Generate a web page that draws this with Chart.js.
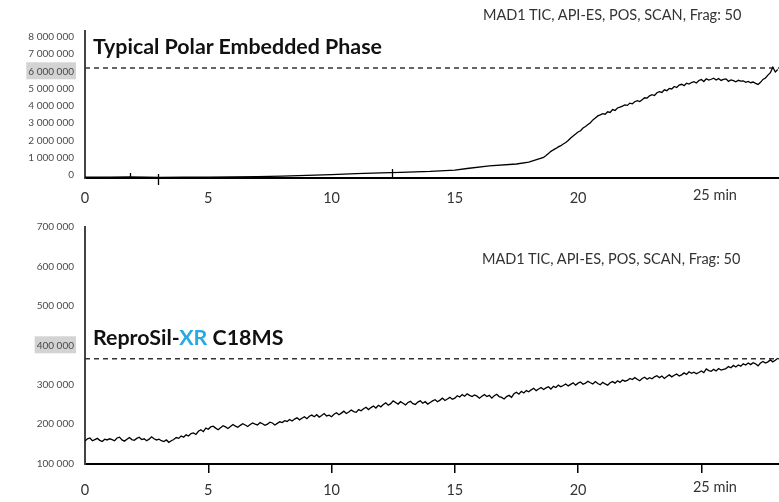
<!DOCTYPE html>
<html>
<head>
<meta charset="utf-8">
<script src="https://cdn.jsdelivr.net/npm/chart.js@4.4.1/dist/chart.umd.min.js"></script>
<style>
  body { margin: 0; background: #fff; font-family: Lato, sans-serif; }
  #wrap { position: relative; width: 779px; height: 502px; overflow: hidden; }
  canvas { position: absolute; left: 0; }
  .title { position: absolute; left: 93px; font-weight: bold; font-size: 21.4px; line-height: 1; color: #111; white-space: nowrap; }
  .note { position: absolute; font-size: 14.5px; line-height: 1; color: #333; white-space: nowrap; }
  .xr { color: #27a9e1; }
</style>
</head>
<body>
<div id="wrap">
  <canvas id="topChart" width="779" height="210" style="top:0"></canvas>
  <canvas id="bottomChart" width="779" height="292" style="top:210px"></canvas>
  <div class="note" style="left:483px; top:8px">MAD1 TIC, API-ES, POS, SCAN, Frag: 50</div>
  <div class="title" style="top:36px">Typical Polar Embedded Phase</div>
  <div class="note" style="left:482px; top:252px">MAD1 TIC, API-ES, POS, SCAN, Frag: 50</div>
  <div class="title" style="top:327px">ReproSil-<span class="xr">XR</span> C18MS</div>
</div>
<script>
// time axis (min)
const xMax = 28.15;
const xTickValues = [0, 5, 10, 15, 20, 25];
const xTickLabels = ['0', '5', '10', '15', '20', '25'];
const xUnit = 'min';

// top chromatogram, counts in thousands
const topYTicks = [0, 1000000, 2000000, 3000000, 4000000, 5000000, 6000000, 7000000, 8000000];
const topHighlight = 6000000;
const topRef = 6190000;
const topEarlyTimes = [0, 1.0, 1.8, 2.5, 3.0, 4.0, 5.0, 6.0, 7.0, 8.0, 9.0, 10.0, 11.0, 12.0, 12.8, 14.0, 15.0, 15.5, 16.4, 17.5, 18.0, 18.6];
const topEarlyK = [-120, -125, -100, -125, -130, -125, -120, -110, -95, -60, -20, 30, 80, 130, 160, 210, 290, 380, 530, 640, 750, 1020];
const topLateStart = 18.7;
const topLateStep = 0.1;
const topLateK = [
  1130, 1250, 1370, 1460, 1540, 1630, 1700, 1800, 1880, 2000,
  2140, 2260, 2370, 2490, 2560, 2720, 2810, 2920, 3030, 3190,
  3300, 3420, 3480, 3550, 3520, 3660, 3620, 3790, 3740, 3880,
  3930, 3990, 4060, 4030, 4160, 4120, 4240, 4300, 4250, 4360,
  4470, 4450, 4580, 4650, 4600, 4760, 4820, 4780, 4930, 4880,
  5010, 4980, 5120, 5060, 5200, 5250, 5170, 5310, 5260, 5350,
  5400, 5320, 5470, 5520, 5410, 5570, 5490, 5540, 5600, 5500,
  5580, 5470, 5530, 5560, 5420, 5500, 5460, 5390, 5480, 5430,
  5450, 5360, 5410, 5340, 5380, 5300, 5240, 5360, 5530, 5610,
  5780, 5920, 6240, 5960, 6100
];
const eventTimes = [1.83, 2.95, 12.47];

// bottom chromatogram, counts in thousands, one value per 0.1 min
const bottomYTicks = [100000, 200000, 300000, 400000, 500000, 600000, 700000];
const bottomHighlight = 400000;
const bottomRef = 366000;
const bottomStart = 0;
const bottomStep = 0.1;
const bottomK = [
  157, 163, 165, 158, 161, 164, 159, 156, 162, 160,
  163, 161, 158, 165, 167, 160, 157, 162, 166, 161,
  159, 164, 167, 161, 163, 158, 162, 168, 163, 160,
  162, 158, 156, 160, 154, 158, 161, 166, 164, 170,
  167, 173, 170, 176, 178, 174, 182, 186, 181, 190,
  187, 193, 195, 190, 186, 191, 196, 193, 189, 194,
  199, 195, 192, 197, 201, 198, 194, 199, 203, 200,
  198, 204, 201, 197, 200, 205, 203, 198, 202, 206,
  204, 209, 207, 212, 208, 213, 216, 211, 215, 219,
  214, 220, 223, 219, 224, 218, 222, 227, 221, 223,
  219, 225, 229, 224, 228, 233, 227, 231, 236, 232,
  230, 237, 234, 239, 243, 237, 242, 246, 241, 248,
  244, 250, 254, 248, 252, 259, 255, 251, 257, 253,
  249, 255, 258, 252, 250, 256, 259, 253, 257, 251,
  255, 259, 262, 257, 261, 266, 260, 264, 268, 263,
  266, 272, 269, 275, 271, 277, 273, 270, 274, 271,
  266, 271, 275, 270, 273, 266, 272, 276, 270, 268,
  264, 270, 273, 268, 277, 281, 276, 283, 279, 285,
  282, 287, 291, 285, 289, 293, 288, 292, 295, 289,
  296, 293, 299, 295, 298, 302, 297, 301, 305, 299,
  304, 307, 301, 304, 309, 305, 302, 308, 303, 300,
  306, 302, 299, 305, 308, 304, 310, 306, 312, 309,
  311, 316, 313, 318, 314, 310, 316, 319, 314, 318,
  315, 320, 323, 318, 322, 316, 321, 325, 320, 324,
  327, 322, 325, 330, 326, 333, 329, 332, 328, 331,
  335, 331, 340, 336, 334, 339, 335, 341, 337, 339,
  341, 346, 343, 349, 345, 350, 347, 353, 350, 355,
  351, 356, 353, 348, 355, 359, 355, 358, 363, 358,
  362, 367
];

Chart.defaults.font.family = 'Lato';

const spaced = v => String(Math.round(v)).replace(/\B(?=(\d{3})+(?!\d))/g, ' ');

const xLabelPlugin = {
  id: 'xLabels',
  afterDraw(chart, args, opts) {
    const {ctx} = chart;
    const xs = chart.scales.x;
    const base = chart.chartArea.bottom + opts.offset;
    ctx.save();
    ctx.font = '14.5px Lato';
    ctx.fillStyle = '#333';
    ctx.textBaseline = 'middle';
    xTickValues.forEach((v, i) => {
      const px = xs.getPixelForValue(v);
      const last = i === xTickValues.length - 1;
      const y = base - (last ? opts.lift : 0);
      ctx.textAlign = 'center';
      ctx.fillText(xTickLabels[i], px, y);
      if (last) {
        const w = ctx.measureText(xTickLabels[i]).width;
        ctx.textAlign = 'left';
        ctx.fillText(' ' + xUnit, px + w / 2, y);
      }
    });
    ctx.restore();
  }
};

const eventMarkPlugin = {
  id: 'eventMarks',
  afterDatasetsDraw(chart, args, opts) {
    if (!opts.marks) return;
    const {ctx, chartArea} = chart;
    const xs = chart.scales.x;
    ctx.save();
    ctx.strokeStyle = '#000';
    ctx.lineWidth = 1.3;
    eventTimes.forEach((t, i) => {
      const m = opts.marks[i];
      const px = Math.round(xs.getPixelForValue(t)) + 0.5;
      ctx.beginPath();
      ctx.moveTo(px, chartArea.bottom - m.up);
      ctx.lineTo(px, chartArea.bottom + m.down);
      ctx.stroke();
    });
    ctx.restore();
  }
};

function yScale(min, max, ticks, highlight) {
  return {
    min, max,
    afterBuildTicks(scale) { scale.ticks = ticks.map(v => ({value: v})); },
    afterFit(scale) { scale.width = 85; },
    grid: {display: false, drawTicks: false},
    border: {color: '#444', width: 2},
    ticks: {
      callback: v => spaced(v),
      font: {family: 'Lato', size: 10},
      color: '#4a4a4a',
      padding: 11,
      showLabelBackdrop: ctx => ctx.tick && ctx.tick.value === highlight,
      backdropColor: '#d3d3d3',
      backdropPadding: {top: 3, bottom: 2, left: 2, right: 2}
    }
  };
}

function xScale(height, withTicks) {
  return {
    type: 'linear', min: 0, max: xMax,
    afterBuildTicks(scale) { scale.ticks = xTickValues.map(v => ({value: v})); },
    afterFit(scale) { scale.height = height; },
    grid: withTicks ? {
      display: true, drawOnChartArea: false, drawTicks: true, tickLength: 9, lineWidth: 1.5,
      color: ctx => (ctx.tick && ctx.tick.value === 0) ? 'rgba(0,0,0,0)' : '#000'
    } : {display: false},
    border: {color: '#000', width: 2},
    ticks: {display: false}
  };
}

function buildChart(canvasId, series, ref, cfg) {
  return new Chart(document.getElementById(canvasId), {
    type: 'line',
    data: {
      datasets: [
        {data: series, borderColor: '#000', borderWidth: 1.3, pointRadius: 0, tension: 0},
        {data: [{x: 0, y: ref}, {x: xMax, y: ref}], borderColor: '#333', borderWidth: 1.5,
          borderDash: [5, 4], pointRadius: 0}
      ]
    },
    options: {
      responsive: false,
      animation: false,
      layout: {padding: {top: cfg.padTop, left: 0, right: 0, bottom: 0}},
      scales: {x: cfg.x, y: cfg.y},
      plugins: {
        legend: {display: false},
        tooltip: {enabled: false},
        xLabels: cfg.labels,
        eventMarks: {marks: cfg.marks}
      }
    },
    plugins: [xLabelPlugin, eventMarkPlugin]
  });
}

const topSeries = topEarlyTimes.map((t, i) => ({x: t, y: topEarlyK[i] * 1000}))
  .concat(topLateK.map((v, i) => ({x: topLateStart + i * topLateStep, y: v * 1000})));
const bottomSeries = bottomK.map((v, i) => ({x: bottomStart + i * bottomStep, y: v * 1000}));

buildChart('topChart', topSeries, topRef, {
  padTop: 31,
  x: xScale(32, false),
  y: yScale(-170000, 8330000, topYTicks, topHighlight),
  labels: {offset: 20, lift: 3},
  marks: [{up: 5, down: 0}, {up: 4, down: 7}, {up: 9, down: 1}]
});

buildChart('bottomChart', bottomSeries, bottomRef, {
  padTop: 13,
  x: xScale(38, true),
  y: yScale(99000, 700000, bottomYTicks, bottomHighlight),
  labels: {offset: 26, lift: 3},
  marks: null
});
</script>
</body>
</html>
